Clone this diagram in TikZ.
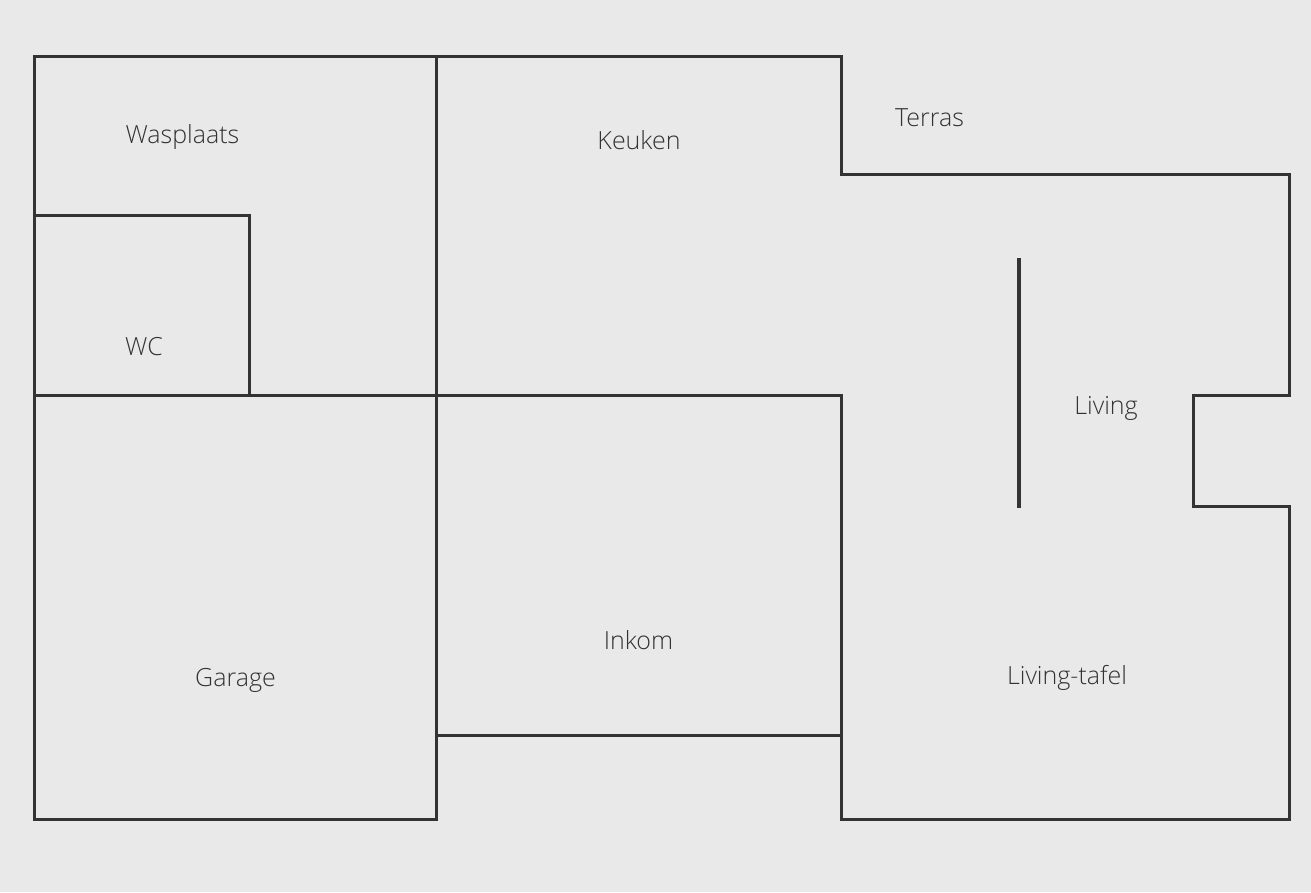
\documentclass[tikz,border=0pt]{standalone}
\usepackage{fontspec}
\setmainfont[Ligatures=TeX]{Open Sans Light}
\begin{document}
\begin{tikzpicture}[x=1pt,y=-1pt,
  wall/.style={draw=wallgray,line width=3pt,line cap=rect,line join=miter},
  room/.style={text=wallgray,font=\fontsize{25}{30}\selectfont,inner sep=0pt,anchor=base}]
\definecolor{wallgray}{HTML}{333333}
\definecolor{floorgray}{HTML}{E9E9E9}
% Background
\fill[floorgray] (0,0) rectangle (1311,892);
\useasboundingbox (0,0) rectangle (1311,892);

% Walls
\draw[wall] (34.5,56.5) -- (841.5,56.5) -- (841.5,174.5) -- (1289.5,174.5) -- (1289.5,395.5) -- (1193.5,395.5) -- (1193.5,506.5) -- (1289.5,506.5) -- (1289.5,819.5) -- (841.5,819.5) -- (841.5,395.5) -- (34.5,395.5);
\draw[wall] (34.5,56.5) -- (34.5,819.5) -- (436.5,819.5) -- (436.5,56.5);
\draw[wall] (34.5,215.5) -- (249.5,215.5) -- (249.5,395.5);
\draw[wall] (436.5,735.5) -- (841.5,735.5);
\draw[wall,line width=4pt] (1019,260) -- (1019,506);

% Rooms
\node[room] (wasplaats) at (182.5,143) {Wasplaats};
\node[room] (wc) at (144,355) {WC};
\node[room] (keuken) at (639,149) {Keuken};
\node[room] (terras) at (929.5,126) {Terras};
\node[room] (living) at (1106,414) {Living};
\node[room] (inkom) at (638.5,649) {Inkom};
\node[room] (garage) at (235.5,686) {Garage};
\node[room] (tafel) at (1067,684) {Living-tafel};
\end{tikzpicture}
\end{document}
